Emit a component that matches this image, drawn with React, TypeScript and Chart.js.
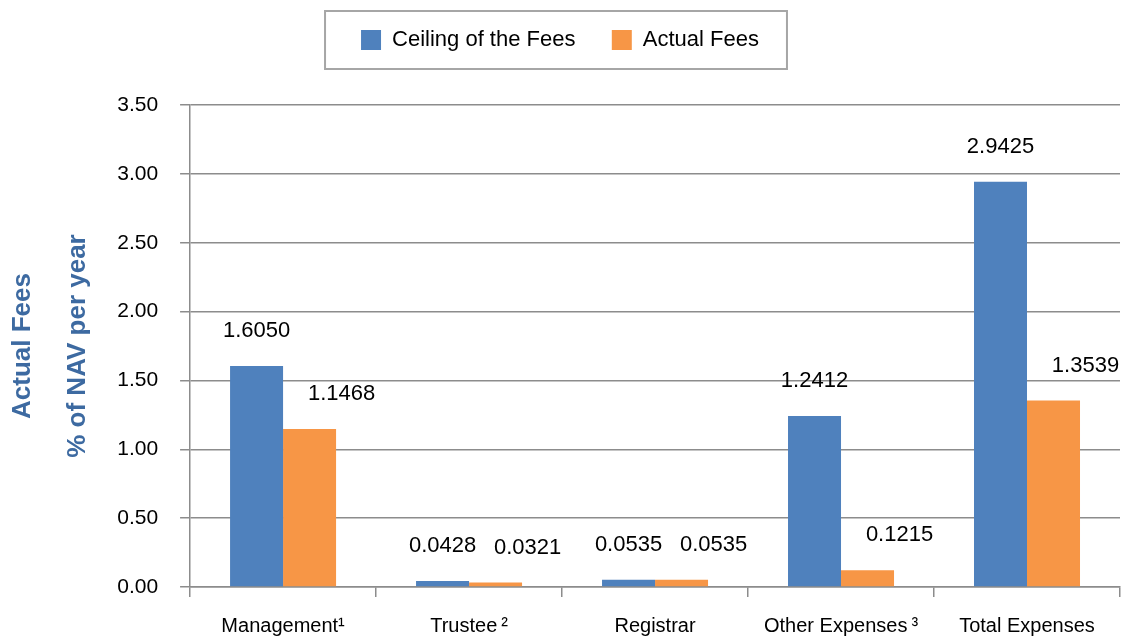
import React, { useEffect, useRef } from "react";
import { Chart, registerables } from "chart.js";

Chart.register(...registerables);

const categories = ["Management¹", "Trustee\u2009²", "Registrar", "Other Expenses\u2009³", "Total Expenses"];
const ceilingFees = [1.605, 0.0428, 0.0535, 1.2412, 2.9425];
const actualFees = [1.1468, 0.0321, 0.0535, 0.1215, 1.3539];
const seriesNames = ["Ceiling of the Fees   ", "Actual Fees"];
const yTitle = ["Actual Fees", "% of NAV per year"];

const FONT = '"Liberation Sans", Arial, Helvetica, sans-serif';
const BLUE = "#4F81BD";
const ORANGE = "#F79646";
const GRID = "#8C8C8C";

const legendMargin = {
  id: "legendMargin",
  beforeInit(chart: any) {
    const legend = chart.legend;
    if (!legend) return;
    const origFit = legend.fit;
    legend.fit = function () {
      origFit.bind(legend)();
      this.height += 44;
    };
  },
};

const legendBorder = {
  id: "legendBorder",
  afterDraw(chart: any) {
    const legend = chart.legend;
    if (!legend || !legend.legendHitBoxes || !legend.legendHitBoxes.length) return;
    const hb = legend.legendHitBoxes;
    const left = Math.min(...hb.map((h: any) => h.left)) - 36;
    const right = Math.max(...hb.map((h: any) => h.left + h.width)) + 28;
    const cy = hb[0].top + hb[0].height / 2;
    const ctx = chart.ctx;
    ctx.save();
    ctx.strokeStyle = "#A6A6A6";
    ctx.lineWidth = 2;
    ctx.strokeRect(left, cy - 29, right - left, 58);
    ctx.restore();
  },
};

const valueLabels = {
  id: "valueLabels",
  afterDatasetsDraw(chart: any) {
    const ctx = chart.ctx;
    ctx.save();
    ctx.font = `22px ${FONT}`;
    ctx.fillStyle = "#000";
    ctx.textAlign = "center";
    ctx.textBaseline = "middle";
    chart.data.datasets.forEach((ds: any, i: number) => {
      const meta = chart.getDatasetMeta(i);
      meta.data.forEach((el: any, j: number) => {
        const v = ds.data[j] as number;
        const dx = i === 1 ? 32 : 0;
        ctx.fillText(v.toFixed(4), el.x + dx, el.y - 35);
      });
    });
    ctx.restore();
  },
};

export default function App() {
  const ref = useRef<HTMLCanvasElement>(null);
  useEffect(() => {
    document.body.style.margin = "0";
    Chart.defaults.font.family = FONT;
    const chart = new Chart(ref.current as HTMLCanvasElement, {
      type: "bar",
      data: {
        labels: categories,
        datasets: [
          { label: seriesNames[0], data: ceilingFees, backgroundColor: BLUE, borderWidth: 0, categoryPercentage: 0.57, barPercentage: 1.0 },
          { label: seriesNames[1], data: actualFees, backgroundColor: ORANGE, borderWidth: 0, categoryPercentage: 0.57, barPercentage: 1.0 },
        ],
      },
      options: {
        responsive: false,
        animation: false,
        devicePixelRatio: 1,
        layout: { padding: { top: 11, left: 0, right: 1, bottom: -19 } },
        plugins: {
          legend: {
            display: true,
            position: "top",
            labels: {
              boxWidth: 20,
              boxHeight: 20,
              padding: 18,
              color: "#000",
              font: { size: 22, family: FONT },
            },
          },
          tooltip: { enabled: false },
        },
        scales: {
          x: {
            grid: {
              offset: true,
              drawOnChartArea: false,
              drawTicks: true,
              tickLength: 10,
              color: GRID,
              lineWidth: 1.5,
            },
            border: { display: true, color: GRID, width: 1.5 },
            ticks: {
              color: "#000",
              font: { size: 20, family: FONT },
              padding: 17,
              maxRotation: 0,
              autoSkip: false,
            },
          },
          y: {
            min: 0,
            max: 3.5,
            grid: {
              drawTicks: true,
              tickLength: 10,
              color: GRID,
              lineWidth: 1.5,
            },
            border: { display: true, color: GRID, width: 1.5 },
            ticks: {
              stepSize: 0.5,
              color: "#000",
              font: { size: 21, family: FONT },
              padding: 22,
              callback: (v: any) => Number(v).toFixed(2),
            },
            title: {
              display: true,
              text: yTitle,
              color: "#3D6AA1",
              font: { size: 26, weight: "bold", family: FONT, lineHeight: 2.1 },
              padding: { top: -4, bottom: -10 },
            },
          },
        },
      },
      plugins: [legendMargin, legendBorder, valueLabels],
    });
    return () => chart.destroy();
  }, []);
  return (
    <div style={{ width: 1121, height: 636 }}>
      <canvas ref={ref} width={1121} height={636} />
    </div>
  );
}
